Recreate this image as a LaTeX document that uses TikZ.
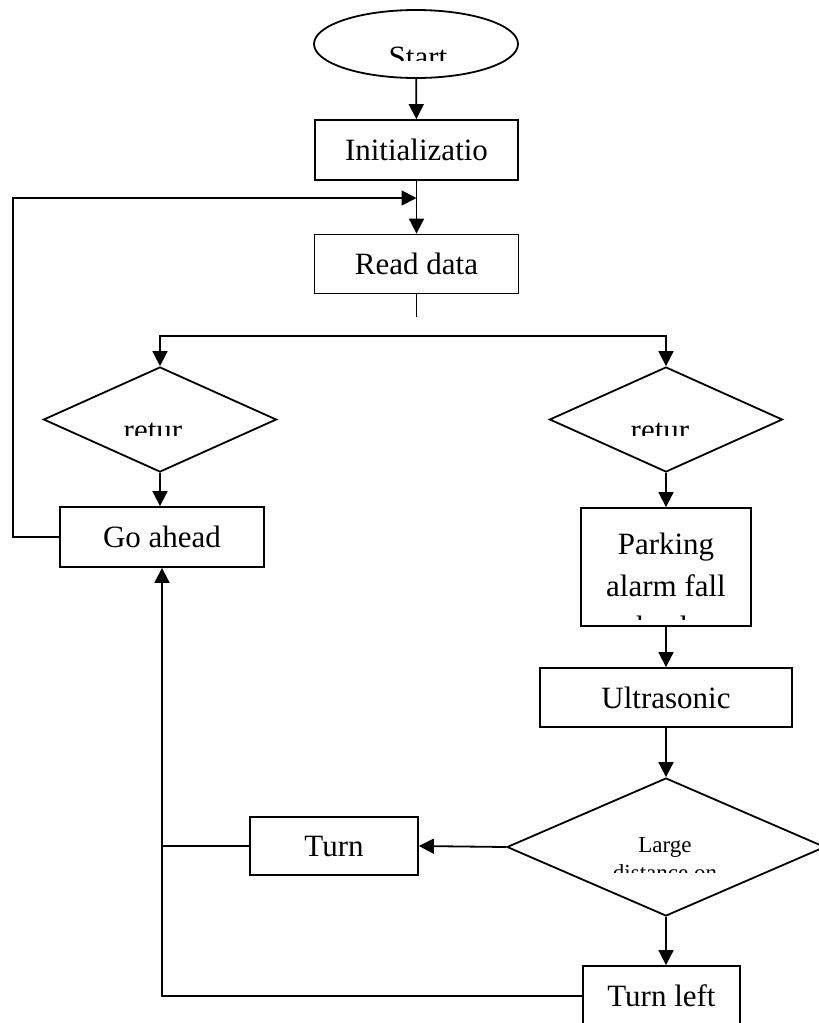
\documentclass[tikz,border=0pt]{standalone}
\usepackage{fontspec}
\setmainfont{Liberation Serif}
\usetikzlibrary{shapes.geometric,arrows.meta,positioning}

\tikzset{
    box/.style={draw, rectangle, inner sep=0pt},
    decision/.style={draw, diamond, inner sep=0pt},
    arr/.style={-{Triangle[length=15pt,width=15pt]}}
}

\begin{document}
\begin{tikzpicture}[x=1pt, y=-1pt, line width=1.8pt,
    font=\fontsize{31}{36}\selectfont]
    \useasboundingbox (0,0) rectangle (819,1023);

    % main column
    \node[draw, ellipse, minimum width=204pt, minimum height=68pt] (start) at (416,44) {};
    \node[box, minimum width=203pt, minimum height=60pt] (init) at (416.5,150) {Initializatio};
    \node[box, minimum width=204pt, minimum height=59pt] (read) at (416.5,264) {Read data};
    \coordinate (merge) at (416.5,198);
    \coordinate (stub) at (416.5,317);
    \coordinate (fork) at (416.5,336);

    % two branches
    \node[decision, minimum width=233pt, minimum height=105pt] (dl) at (160,419.5) {};
    \node[decision, minimum width=233pt, minimum height=105pt] (dr) at (666,419.5) {};
    \node[box, minimum width=204pt, minimum height=60pt] (go) at (162,537) {Go ahead};
    \node[box, minimum width=170pt, minimum height=118pt] (park) at (666,567) {};
    \node[box, minimum width=252pt, minimum height=59pt] (ultra) at (666,697.5) {Ultrasonic};
    \node[decision, minimum width=318pt, minimum height=138pt] (big) at (666,847) {};
    \node[box, minimum width=168pt, minimum height=58pt] (turn) at (334,846) {Turn};
    \node[box, minimum width=157pt, minimum height=60pt] (tleft) at (661.5,996) {Turn left};

    % texts cut off by their boxes
    \begin{scope}
        \clip (314,0) rectangle (520,60);
        \node[anchor=base] (tstart) at (418,67.5) {Start};
    \end{scope}
    \begin{scope}
        \clip (100,380) rectangle (230,435);
        \node[anchor=base] (tdl) at (153,440) {retur};
    \end{scope}
    \begin{scope}
        \clip (600,380) rectangle (730,435);
        \node[anchor=base] (tdr) at (660,440) {retur};
    \end{scope}
    \begin{scope}
        \clip (585,510) rectangle (751,619);
        \node[anchor=base] (pk1) at (666,554) {Parking};
        \node[anchor=base] (pk2) at (666,596) {alarm fall};
        \node[anchor=base] (pk3) at (666,637) {back};
    \end{scope}
    \begin{scope}[font=\fontsize{23}{26}\selectfont]
        \clip (560,820) rectangle (770,872);
        \node[anchor=base] (lg1) at (665,852) {Large};
        \node[anchor=base] (lg2) at (665,880) {distance on};
    \end{scope}

    % connectors
    \draw[arr] (start) -- (init);
    \draw[arr] (init) -- (read);
    \draw (read.south) -- (stub);
    \draw[arr] (fork) -| (dl.north);
    \draw[arr] (fork) -| (dr.north);
    \draw[arr] (dl.south) -- (dl.south |- go.north);
    \draw[arr] (go.west) -| (13,198) -- (merge);
    \draw[arr] (dr.south) -- (dr.south |- park.north);
    \draw[arr] (park.south) -- (park.south |- ultra.north);
    \draw[arr] (ultra.south) -- (ultra.south |- big.north);
    \draw[arr] (big.west) -- (turn.east);
    \draw[arr] (big.south) -- (big.south |- tleft.north);
    \draw (turn.west) -- (turn.west -| go.south);
    \draw[arr] (tleft.west) -| (go.south);
\end{tikzpicture}
\end{document}
